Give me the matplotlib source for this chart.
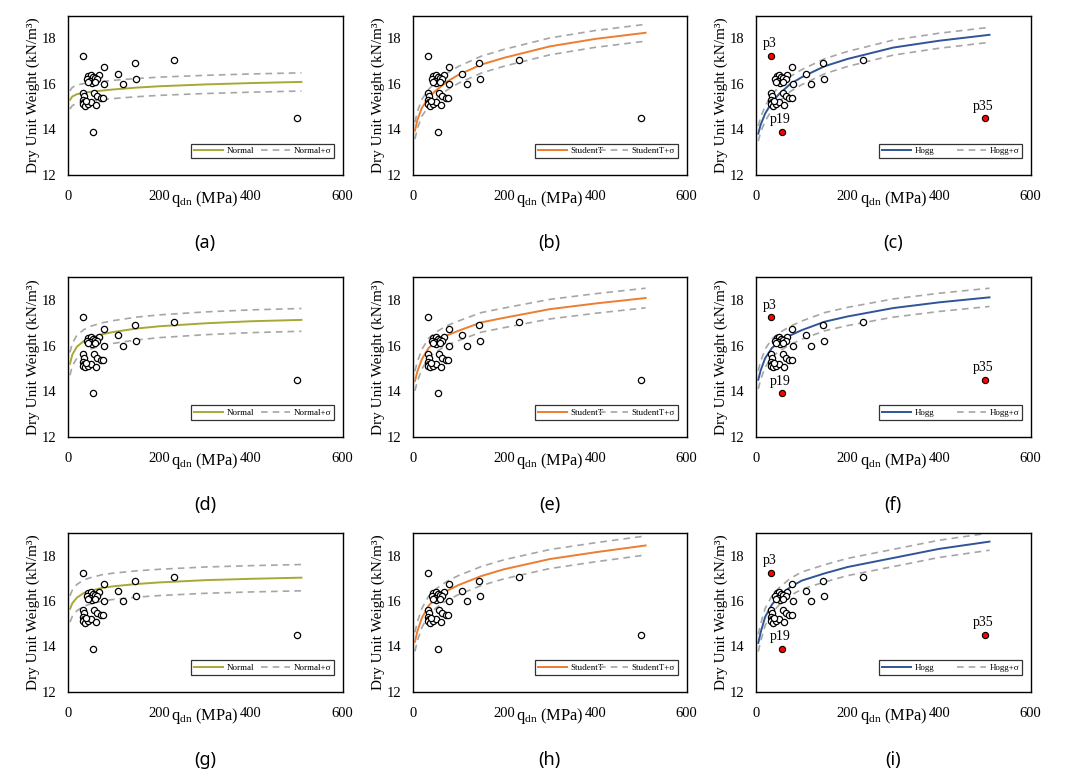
import matplotlib
matplotlib.use("Agg")
import matplotlib.pyplot as plt
from matplotlib.lines import Line2D

plt.rcParams["mathtext.fontset"] = "custom"
plt.rcParams["mathtext.rm"] = "Liberation Serif"
plt.rcParams["mathtext.it"] = "Liberation Serif:italic"

# ---------------- data ----------------
q_dn = [33, 79, 146, 233, 109, 148, 120, 80, 45, 50, 55, 68, 42, 48, 60, 65, 52, 60, 44,
        33, 58, 35, 65, 72, 78, 33, 36, 33, 38, 44, 50, 62, 56, 500, 40]
gamma_d = [17.25, 16.75, 16.9, 17.05, 16.45, 16.2, 15.98, 16.0, 16.35, 16.4, 16.3, 16.4, 16.2, 16.15,
           16.25, 16.2, 16.05, 16.1, 16.1, 15.62, 15.62, 15.45, 15.45, 15.38, 15.38, 15.3, 15.2,
           15.12, 15.05, 15.1, 15.2, 15.08, 13.9, 14.5, 15.25]
outlier_idx = [0, 32, 33]
outlier_labels = ["p3", "p19", "p35"]

curve_x = [5, 10, 20, 35, 50, 75, 100, 150, 200, 300, 400, 510]
mean_a = [15.30, 15.45, 15.55, 15.62, 15.65, 15.71, 15.76, 15.84, 15.90, 15.98, 16.04, 16.09]
mean_b = [13.95, 14.40, 14.95, 15.40, 15.70, 16.10, 16.40, 16.85, 17.15, 17.65, 17.98, 18.25]
mean_c = [13.82, 14.20, 14.70, 15.20, 15.55, 16.00, 16.30, 16.78, 17.10, 17.60, 17.90, 18.16]
mean_d = [15.20, 15.60, 15.95, 16.20, 16.35, 16.50, 16.60, 16.75, 16.85, 16.98, 17.07, 17.13]
mean_e = [14.45, 14.85, 15.40, 15.90, 16.15, 16.45, 16.65, 17.02, 17.22, 17.60, 17.85, 18.09]
mean_f = [14.50, 14.90, 15.45, 15.90, 16.15, 16.45, 16.68, 17.05, 17.28, 17.65, 17.90, 18.12]
mean_g = [15.65, 15.90, 16.15, 16.35, 16.45, 16.58, 16.65, 16.75, 16.82, 16.92, 16.98, 17.03]
mean_h = [14.20, 14.65, 15.25, 15.80, 16.10, 16.45, 16.70, 17.10, 17.40, 17.85, 18.15, 18.45]
mean_i = [14.15, 14.60, 15.30, 15.85, 16.20, 16.62, 16.90, 17.22, 17.50, 17.90, 18.30, 18.62]
sigmas = [0.40, 0.37, 0.33, 0.50, 0.43, 0.40, 0.58, 0.42, 0.38]

models = ["Normal", "StudentT", "Hogg"]
captions = ["(a)", "(b)", "(c)", "(d)", "(e)", "(f)", "(g)", "(h)", "(i)"]
x_ticks = [0, 200, 400, 600]
y_ticks = [12, 14, 16, 18]

# ---------------- style ----------------
colors = {"Normal": "#A8A838", "StudentT": "#ED7D31", "Hogg": "#2F5597"}
grey = "#A6A6A6"
serif = ["Liberation Serif", "DejaVu Serif"]

W, H = 1070, 777
fig = plt.figure(figsize=(W / 100, H / 100), dpi=100)

col_lr = [(67.7, 342.7), (412.7, 686.7), (756.0, 1030.7)]
row_tb = [(15.7, 175.0), (277.3, 436.7), (533.0, 691.7)]

means = [mean_a, mean_b, mean_c, mean_d, mean_e, mean_f, mean_g, mean_h, mean_i]

for k in range(9):
    r, c = divmod(k, 3)
    l, rr = col_lr[c]
    t, b = row_tb[r]
    ax = fig.add_axes([l / W, 1 - b / H, (rr - l) / W, (b - t) / H])
    model = models[c]
    m = means[k]
    s = sigmas[k]
    up = [v + s for v in m]
    lo = [v - s for v in m]

    ax.plot(curve_x, up, color=grey, lw=1.2, ls=(0, (4, 3)), zorder=2)
    ax.plot(curve_x, lo, color=grey, lw=1.2, ls=(0, (4, 3)), zorder=2)
    ax.plot(curve_x, m, color=colors[model], lw=1.4, zorder=3)

    if model == "Hogg":
        keep = [i for i in range(len(q_dn)) if i not in outlier_idx]
        ax.plot([q_dn[i] for i in keep], [gamma_d[i] for i in keep], ls="none", marker="o",
                ms=4.5, mfc="white", mec="black", mew=0.9, zorder=4)
        ax.plot([q_dn[i] for i in outlier_idx], [gamma_d[i] for i in outlier_idx], ls="none",
                marker="o", ms=4.5, mfc="#FF0000", mec="black", mew=0.8, zorder=5)
        for i, lab in zip(outlier_idx, outlier_labels):
            ax.annotate(lab, (q_dn[i], gamma_d[i]), xytext=(-1, 4), textcoords="offset points",
                        ha="center", va="bottom", fontsize=10, family=serif)
    else:
        ax.plot(q_dn, gamma_d, ls="none", marker="o", ms=4.5, mfc="white", mec="black",
                mew=0.9, zorder=4)

    ax.set_xlim(0, 600)
    ax.set_ylim(12, 19)
    ax.set_xticks(x_ticks)
    ax.set_yticks(y_ticks)
    ax.tick_params(length=0, labelsize=10.5)
    ax.tick_params(axis="y", pad=8.5)
    ax.tick_params(axis="x", pad=11)
    for lab in ax.get_xticklabels() + ax.get_yticklabels():
        lab.set_family(serif)
    for sp in ax.spines.values():
        sp.set_linewidth(1.0)
        sp.set_color("black")

    ax.set_ylabel("Dry Unit Weight (kN/m³)", fontsize=11, family=serif)
    ax.yaxis.set_label_coords(-0.102, 0.5)
    ax.set_xlabel(r"q$_{\mathrm{dn}}$ (MPa)", fontsize=11.8, family=serif)
    ax.xaxis.set_label_coords(0.5, -0.09)

    handles = [Line2D([], [], color=colors[model], lw=1.4),
               Line2D([], [], color=grey, lw=1.2, ls=(0, (4, 3)))]
    leg = ax.legend(handles, [model, model + "+σ"], loc="lower left",
                    bbox_to_anchor=(0.447, 0.105, 0.522, 0.098), mode="expand", ncol=2,
                    prop={"family": serif, "size": 6.5}, frameon=True, fancybox=False,
                    edgecolor="black", borderpad=0.35, handlelength=3.2, handletextpad=0.4,
                    borderaxespad=0)
    leg.get_frame().set_linewidth(0.9)

    fig.text(((l + rr) / 2) / W, 1 - (b + 68) / H, captions[k], ha="center", va="center",
             fontsize=13, family=["Noto Sans", "DejaVu Sans"])

fig.savefig("out.png", dpi=100)
